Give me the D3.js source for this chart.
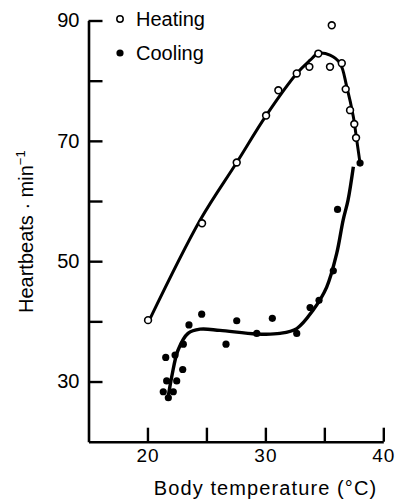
<!DOCTYPE html>
<html>
<head>
<meta charset="utf-8">
<script src="https://cdn.jsdelivr.net/npm/d3@7"></script>
<style>
  html, body { margin: 0; padding: 0; background: #fff; }
  svg { display: block; }
  text { font-family: "Liberation Sans", Arial, Helvetica, sans-serif; fill: #000; }
</style>
</head>
<body>
<svg id="chart" width="395" height="500"></svg>
<script>
// ---- data ----
const heatingX = [20.05, 24.63, 27.57, 30.06, 31.1, 32.66, 33.73, 34.49, 35.63, 35.48, 36.48, 36.81, 37.18, 37.54, 37.69];
const heatingY = [40.2, 56.3, 66.4, 74.2, 78.4, 81.2, 82.3, 84.5, 89.2, 82.3, 82.9, 78.6, 75.1, 72.8, 70.5];

const coolingX = [38.03, 36.12, 35.76, 34.55, 33.79, 32.66, 30.59, 29.27, 27.57, 26.66, 24.6, 23.52, 23.04, 21.55, 22.34, 22.99, 21.63, 22.48, 21.34, 22.19, 21.77];
const coolingY = [66.3, 58.6, 48.4, 43.5, 42.3, 38.0, 40.5, 38.0, 40.1, 36.2, 41.2, 39.4, 36.2, 34.0, 34.4, 32.0, 30.1, 30.1, 28.3, 28.3, 27.3];

const heatCurveX = [20.16, 24.46, 27.57, 30.06, 32.66, 33.79, 34.49, 35.48, 36.33, 36.9, 37.46, 37.75, 38.03];
const heatCurveY = [40.2, 56.8, 66.4, 74.2, 81.2, 83.4, 84.55, 84.26, 82.9, 79.0, 74.0, 70.1, 66.25];

const coolCurveX = [21.74, 22.06, 22.59, 23.44, 24.46, 26.15, 29.27, 31.24, 32.66, 34.04, 35.2, 36.05, 36.59, 37.01, 37.46];
const coolCurveY = [27.2, 30.8, 35.2, 38.0, 38.7, 38.5, 37.9, 38.0, 38.8, 41.85, 45.7, 51.3, 56.8, 60.15, 65.7];

const xTicks = [20, 25, 30, 35, 40];
const xTickLabels = ["20", "", "30", "", "40"];
const yTicks = [30, 40, 50, 60, 70, 80, 90];
const yTickLabels = ["30", "", "50", "", "70", "", "90"];
const legendLabels = ["Heating", "Cooling"];
const xTitle = "Body temperature (°C)";
const yTitleMain = "Heartbeats · min";
const yTitleSup = "−1";

// ---- scales ----
const svg = d3.select("#chart");
const x = d3.scaleLinear().domain([15, 40]).range([88.5, 383.3]);
const y = d3.scaleLinear().domain([20, 90]).range([441.7, 20.5]);

// ---- axes ----
const yAxis = d3.axisLeft(y)
  .tickValues(yTicks)
  .tickFormat((d, i) => yTickLabels[i])
  .tickSizeInner(-14)
  .tickSizeOuter(0)
  .tickPadding(9);
const gy = svg.append("g").attr("transform", `translate(${x(15)},0)`).call(yAxis);

const xAxis = d3.axisBottom(x)
  .tickValues(xTicks)
  .tickFormat((d, i) => xTickLabels[i])
  .tickSizeInner(-14)
  .tickSizeOuter(0)
  .tickPadding(7);
const gx = svg.append("g").attr("transform", `translate(0,${y(20)})`).call(xAxis);

[gx, gy].forEach(g => {
  g.select(".domain").attr("stroke", "#000").attr("stroke-width", 2.6);
  g.selectAll(".tick line").attr("stroke", "#000").attr("stroke-width", 2.4);
  g.selectAll(".tick text")
    .style("font-family", '"Liberation Sans", Arial, sans-serif')
    .attr("font-size", 20).attr("fill", "#000");
});
gx.selectAll(".tick text").attr("font-size", 19).style("letter-spacing", "1px");

// ---- curves ----
const line = d3.line().x(d => x(d[0])).y(d => y(d[1])).curve(d3.curveCatmullRom.alpha(0.5));
svg.append("path")
  .datum(heatCurveX.map((v, i) => [v, heatCurveY[i]]))
  .attr("d", line).attr("fill", "none").attr("stroke", "#000").attr("stroke-width", 3);
svg.append("path")
  .datum(coolCurveX.map((v, i) => [v, coolCurveY[i]]))
  .attr("d", line).attr("fill", "none").attr("stroke", "#000").attr("stroke-width", 3.4);

// ---- points ----
svg.append("g").selectAll("circle")
  .data(coolingX.map((v, i) => [v, coolingY[i]]))
  .join("circle")
  .attr("cx", d => x(d[0])).attr("cy", d => y(d[1]))
  .attr("r", 3.6).attr("fill", "#000");

svg.append("g").selectAll("circle")
  .data(heatingX.map((v, i) => [v, heatingY[i]]))
  .join("circle")
  .attr("cx", d => x(d[0])).attr("cy", d => y(d[1]))
  .attr("r", 3.4).attr("fill", "#fff").attr("stroke", "#000").attr("stroke-width", 1.6);

// ---- legend ----
const leg = svg.append("g");
leg.append("circle").attr("cx", 120).attr("cy", 19).attr("r", 3.2)
  .attr("fill", "#fff").attr("stroke", "#000").attr("stroke-width", 1.5);
leg.append("circle").attr("cx", 120).attr("cy", 53).attr("r", 3.6).attr("fill", "#000");
leg.selectAll("text").data(legendLabels).join("text")
  .attr("x", 136).attr("y", (d, i) => 26 + i * 34)
  .attr("font-size", 20).text(d => d);

// ---- titles ----
svg.append("text")
  .attr("x", 265.5).attr("y", 495)
  .attr("text-anchor", "middle").attr("font-size", 20)
  .style("letter-spacing", "1.1px")
  .text(xTitle);

const yt = svg.append("text")
  .attr("transform", "translate(33,313) rotate(-90)")
  .attr("font-size", 20);
yt.append("tspan").text(yTitleMain);
yt.append("tspan").attr("font-size", 13).attr("dy", -8).text(yTitleSup);
</script>
</body>
</html>
